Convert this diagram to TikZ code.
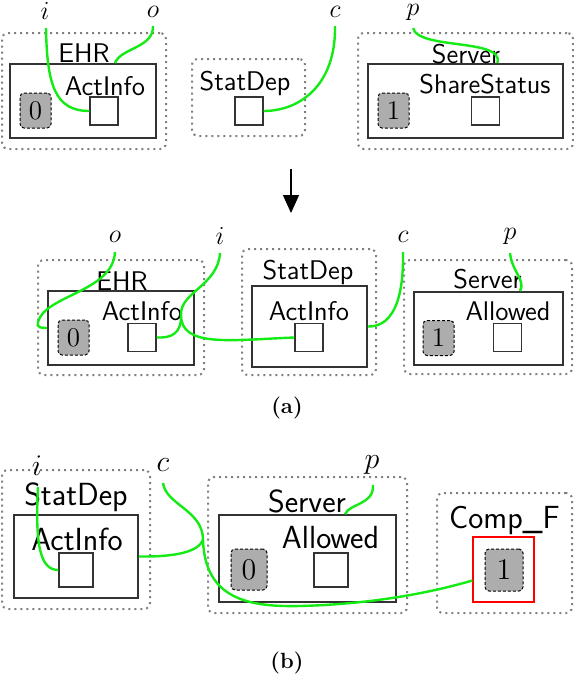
\RequirePackage{fix-cm}
\documentclass[tikz,border=0pt]{standalone}
\usepackage{fontspec}
\usetikzlibrary{arrows.meta,calc}
\definecolor{wireg}{RGB}{20,235,20}
\tikzset{
 outerbox/.style={draw=black!50, line width=1pt, dash pattern=on 1pt off 2pt, rounded corners=3pt, inner sep=0pt},
 innerbox/.style={draw=black!80, line width=0.8pt, inner sep=0pt},
 sqbox/.style={draw=black!80, line width=0.6pt, fill=white, minimum size=14pt, inner sep=0pt},
 tok/.style={draw, dash pattern=on 1.5pt off 1pt, line width=0.5pt, fill=black!32, rounded corners=2pt, minimum width=15.5pt, minimum height=17.5pt, inner sep=0pt, font=\fontsize{13.5}{15}\selectfont},
 lbl/.style={anchor=base, inner sep=0pt, font=\sffamily\fontsize{13.5}{16}\selectfont},
 lblB/.style={anchor=base, inner sep=0pt, font=\sffamily\fontsize{16}{19}\selectfont},
 port/.style={anchor=base, inner sep=0pt, font=\fontsize{13}{15}\selectfont},
 portB/.style={anchor=base, inner sep=0pt, font=\fontsize{15}{17}\selectfont},
 wire/.style={draw=wireg, line width=1.2pt},
 figcap/.style={font=\bfseries\fontsize{11}{13}\selectfont, inner sep=0pt},
}
\begin{document}
\begin{tikzpicture}[x=0.5pt,y=-0.5pt]
\useasboundingbox (0,0) rectangle (574,682);
% ---------- top row ----------
\node[outerbox, minimum width=82pt, minimum height=58pt] (ehr1) at (84,91) {};
\node[innerbox, minimum width=73pt, minimum height=37pt] (in1) at (83,101) {};
\node[lbl] (ehr1t) at (84,62) {EHR};
\node[lbl] (ai1t) at (105,95) {ActInfo};
\node[tok] (tk1) at (35.5,110.5) {$0$};
\node[sqbox] (sq1) at (104,111) {};

\node[outerbox, minimum width=56.5pt, minimum height=38.5pt] (sd1) at (248.5,97.5) {};
\node[lbl] (sd1t) at (245,90) {StatDep};
\node[sqbox] (sd1sq) at (249,111) {};

\node[outerbox, minimum width=107.5pt, minimum height=58pt] (sv1) at (465.5,91) {};
\node[innerbox, minimum width=97.5pt, minimum height=37pt] (sv1in) at (465.5,101) {};
\node[lbl] (sv1t) at (466,63) {Server};
\node[lbl] (ss1t) at (485,93) {ShareStatus};
\node[tok] (tk2) at (393.5,110.5) {$1$};
\node[sqbox] (sv1sq) at (485.5,111) {};

\node[port] (pi1) at (45,19) {$i$};
\node[port] (po1) at (153,17) {$o$};
\node[port] (pc1) at (335,17) {$c$};
\node[port] (pp1) at (413,15) {$p$};
\coordinate (ci1) at (46,28);
\coordinate (co1) at (153,26);
\coordinate (cc1) at (335,26);
\coordinate (cp1) at (413,28);

% ---------- arrow ----------
\coordinate (arT) at (291,169);
\coordinate (arB) at (291,213);
\draw[line width=0.6pt, -{Triangle[length=9pt,width=8pt]}] (arT) -- (arB);

% ---------- middle row ----------
\node[outerbox, minimum width=83pt, minimum height=57.5pt] (ehr2) at (121,317.5) {};
\node[innerbox, minimum width=73pt, minimum height=37pt] (in2) at (121,328) {};
\node[lbl] (ehr2t) at (122,290) {EHR};
\node[lbl] (ai2t) at (142,320) {ActInfo};
\node[tok] (tk3) at (73.5,337.5) {$0$};
\node[sqbox] (sq2) at (142,337.5) {};

\node[outerbox, minimum width=67pt, minimum height=63pt] (sd2) at (309,312) {};
\node[innerbox, minimum width=57.5pt, minimum height=40.5pt] (sd2in) at (309.5,326.5) {};
\node[lbl] (sd2t) at (308,279) {StatDep};
\node[lbl] (ai3t) at (309,320) {ActInfo};
\node[sqbox] (sd2sq) at (309,337.5) {};

\node[outerbox, minimum width=84pt, minimum height=57pt] (sv2) at (488,317) {};
\node[innerbox, minimum width=74.5pt, minimum height=36.5pt] (sv2in) at (488.5,328.5) {};
\node[lbl] (sv2t) at (487.5,288) {Server};
\node[lbl] (al2t) at (508,320) {Allowed};
\node[tok] (tk4) at (438.5,338) {$1$};
\node[sqbox] (sv2sq) at (507.5,337.5) {};

\node[port] (po2) at (115,242) {$o$};
\node[port] (pi2) at (220,244) {$i$};
\node[port] (pc2) at (403,242) {$c$};
\node[port] (pp2) at (510,239) {$p$};
\coordinate (co2) at (115,252);
\coordinate (ci2) at (220,253);
\coordinate (cc2) at (403,252);
\coordinate (cp2) at (510,253);
\coordinate (J1) at (181,314);
\coordinate (ob2) at (38,322);

\node[figcap] (capa) at (287,408) {(a)};

% ---------- bottom row ----------
\node[outerbox, minimum width=74pt, minimum height=69.5pt] (sd3) at (76,539.5) {};
\node[innerbox, minimum width=62pt, minimum height=41.5pt] (sd3in) at (76,556.5) {};
\node[lblB] (sd3t) at (76,505) {StatDep};
\node[lblB] (ai4t) at (77,550) {ActInfo};
\node[sqbox, minimum size=17pt] (sd3sq) at (76,570) {};

\node[outerbox, minimum width=99.5pt, minimum height=68pt] (sv3) at (307.5,545) {};
\node[innerbox, minimum width=88.5pt, minimum height=43.5pt] (sv3in) at (307.5,558.5) {};
\node[lblB] (sv3t) at (307,512) {Server};
\node[lblB] (al3t) at (330.5,548) {Allowed};
\node[tok, minimum width=18pt, minimum height=20.5pt, font=\fontsize{15}{17}\selectfont] (tk5) at (249,569.5) {$0$};
\node[sqbox, minimum size=17pt] (sv3sq) at (331,570) {};

\node[outerbox, minimum width=67.5pt, minimum height=60pt] (cf) at (504.5,553) {};
\node[lblB] (cft) at (504.5,528) {Comp\_F};
\node[draw=red, line width=0.6pt, minimum width=30.5pt, minimum height=32.5pt, inner sep=0pt] (red) at (503.5,569.5) {};
\node[tok, minimum width=19pt, minimum height=21pt, font=\fontsize{15}{17}\selectfont] (tk6) at (504,570) {$1$};

\node[portB] (pi3) at (37,475) {$i$};
\node[portB] (pc3) at (163,471) {$c$};
\node[portB] (pp3) at (372,468) {$p$};
\coordinate (ci3) at (38,487);
\coordinate (cc3) at (163,483);
\coordinate (cp3) at (373,485);
\coordinate (J2) at (203,540);
\coordinate (mid3) at (300,606);

\node[figcap] (capb) at (287,663) {(b)};

% ---------- wires ----------
\draw[wire] (ci1) .. controls (47,85) and (55,111) .. (sq1.west);
\draw[wire] (co1) .. controls (154,48) and (120,48) .. ($(in1.north)+(32,0)$);
\draw[wire] (cc1) .. controls (336,85) and (300,111) .. (sd1sq.east);
\draw[wire] (cp1) .. controls (418,50) and (505,38) .. ($(sv1in.north)+(32,0)$);

\draw[wire] (co2) .. controls (113,292) and (45,295) .. (ob2) .. controls (36,328) and (42,328) .. (in2.west);
\draw[wire] (ci2) .. controls (218,285) and (181,292) .. (J1);
\draw[wire] (J1) .. controls (182,335) and (170,338) .. (sq2.east);
\draw[wire] (J1) .. controls (180,348) and (230,340) .. (sd2sq.west);
\draw[wire] (cc2) .. controls (404,305) and (390,327) .. (sd2in.east);
\draw[wire] (cp2) .. controls (512,272) and (526,280) .. ($(sv2in.north)+(31.5,0)$);

\draw[wire] (ci3) .. controls (35,545) and (40,570) .. (sd3sq.west);
\draw[wire] (cc3) .. controls (166,505) and (203,510) .. (J2);
\draw[wire] (J2) .. controls (198,552) and (175,557) .. (sd3in.east);
\draw[wire] (J2) .. controls (205,600) and (250,607) .. (mid3) .. controls (380,604) and (440,590) .. ($(red.west)+(0,11)$);
\draw[wire] (cp3) .. controls (374,505) and (350,503) .. ($(sv3in.north)+(37.5,0)$);
\end{tikzpicture}
\end{document}
